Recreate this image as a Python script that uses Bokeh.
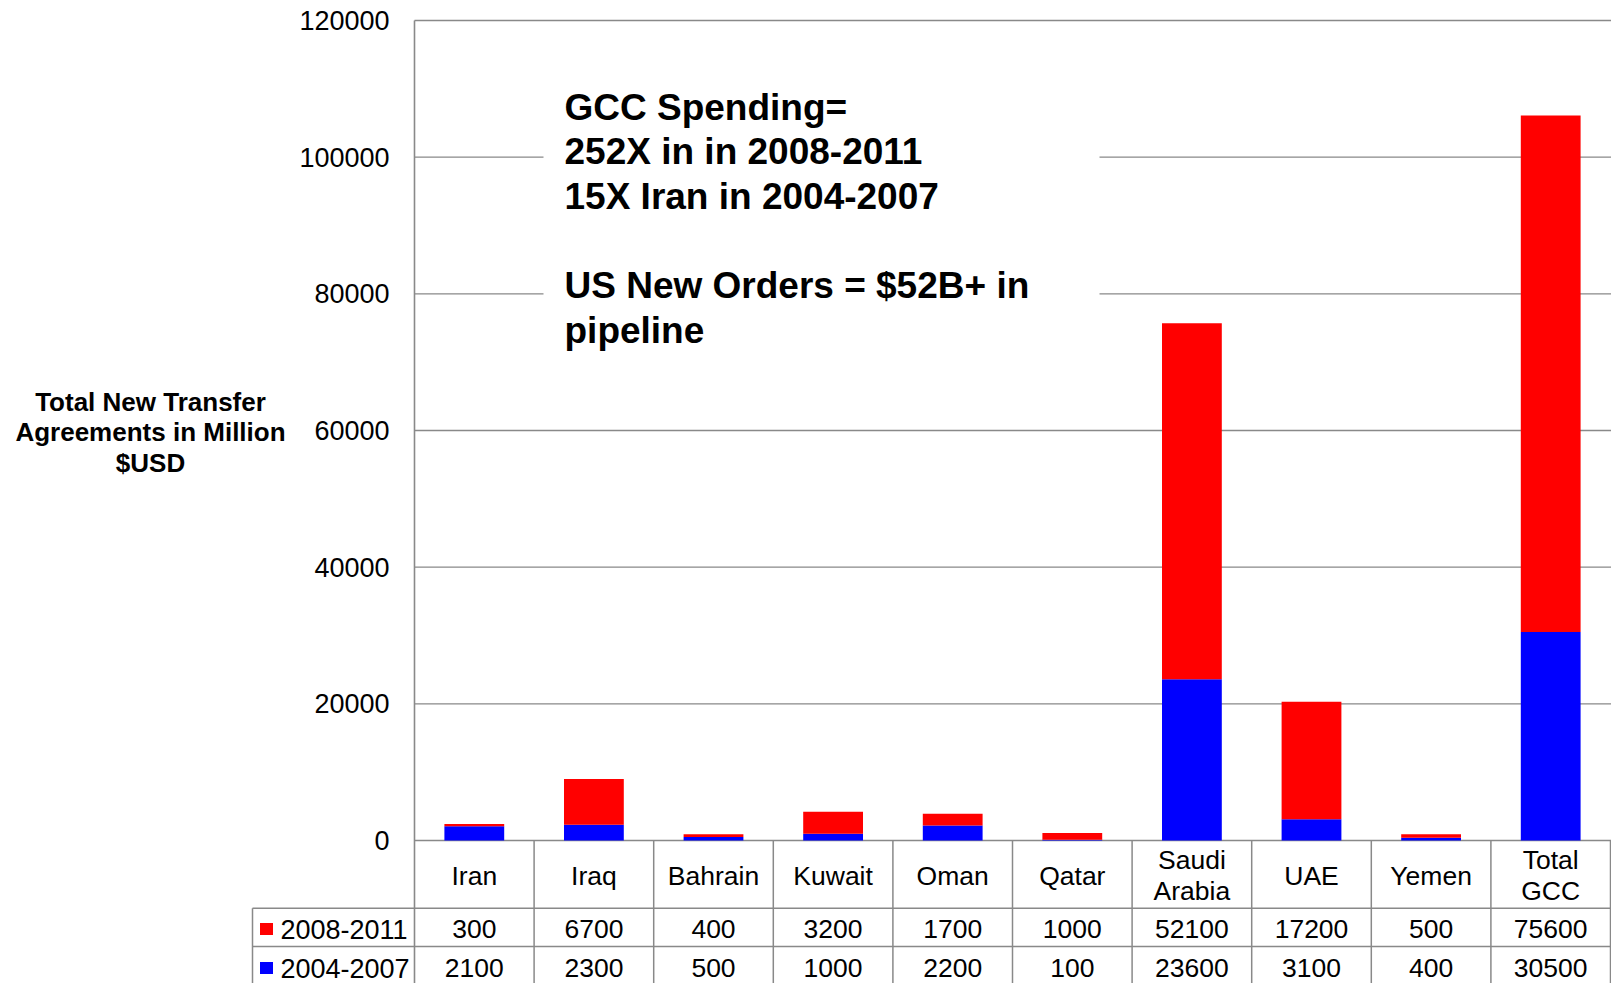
import numpy as np
from bokeh.plotting import figure
from bokeh.models import Range1d, FixedTicker, BasicTickFormatter
from bokeh.core.properties import value
from bokeh.embed import file_html
from bokeh.resources import INLINE

# ---------------- data ----------------
categories = ["Iran", "Iraq", "Bahrain", "Kuwait", "Oman", "Qatar",
              "Saudi Arabia", "UAE", "Yemen", "Total GCC"]
category_labels = ["Iran", "Iraq", "Bahrain", "Kuwait", "Oman", "Qatar",
                   "Saudi\nArabia", "UAE", "Yemen", "Total\nGCC"]
series_names = ["2008-2011", "2004-2007"]
values_2008_2011 = [300, 6700, 400, 3200, 1700, 1000, 52100, 17200, 500, 75600]
values_2004_2007 = [2100, 2300, 500, 1000, 2200, 100, 23600, 3100, 400, 30500]
series_colors = ["#FF0000", "#0000FF"]
y_ticks = [0, 20000, 40000, 60000, 80000, 100000, 120000]
y_title = "Total New Transfer\nAgreements in Million\n$USD"
note_text = ("GCC Spending=\n252X in in 2008-2011\n15X Iran in 2004-2007\n\n"
             "US New Orders = $52B+ in\npipeline")

# ---------------- layout helpers (page pixels -> data) ----------------
W, H = 1611, 983
OX, OY = 0, 0
AXIS_X, ZERO_Y, TOP_Y = 414, 840, 20
COL_W = 119.6
PX_PER_UNIT = (ZERO_Y - TOP_Y) / y_ticks[-1]


def dx(px):
    return (px - AXIS_X) / COL_W


def dy(py):
    return (ZERO_Y - py) / PX_PER_UNIT


FONT = value("Liberation Sans")
GRAY = "#898989"
TXT = "26.5px"

p = figure(width=W, height=H, output_backend="svg", toolbar_location=None,
           x_range=Range1d(dx(OX), dx(OX + W)),
           y_range=Range1d(dy(OY + H), dy(OY)),
           x_axis_location=None,
           min_border_left=0, min_border_right=0, min_border_top=0, min_border_bottom=0)
p.outline_line_color = None
p.xgrid.visible = False
p.ygrid.visible = False
p.background_fill_color = "white"
p.border_fill_color = "white"

# y axis at x = 0 (left edge of the first category column)
ax = p.yaxis[0]
ax.fixed_location = 0
ax.ticker = FixedTicker(ticks=y_ticks)
ax.formatter = BasicTickFormatter(use_scientific=False)
ax.bounds = (dy(OY + H), y_ticks[-1])
ax.axis_line_color = GRAY
ax.axis_line_width = 1.6
ax.major_tick_line_color = None
ax.minor_tick_line_color = None
ax.major_tick_out = 0
ax.major_tick_in = 0
ax.minor_tick_out = 0
ax.major_label_standoff = 25
ax.major_label_text_font = "Liberation Sans"
ax.major_label_text_font_size = "27px"
ax.major_label_text_color = "#000000"

x_end = dx(OX + W) + 1
n = len(categories)
xc = np.arange(n) + 0.5

# gridlines
p.segment(x0=[0] * len(y_ticks), x1=[x_end] * len(y_ticks), y0=y_ticks, y1=y_ticks,
          line_color=GRAY, line_width=1.4)

# white box behind the note
p.quad(left=dx(543), right=dx(1099), top=dy(60), bottom=dy(365),
       fill_color="white", line_color=None)

# stacked bars
v08 = np.array(values_2008_2011)
v04 = np.array(values_2004_2007)
p.vbar(x=xc, width=0.5, bottom=0, top=v04, fill_color=series_colors[1], line_color=None)
p.vbar(x=xc, width=0.5, bottom=v04, top=v04 + v08, fill_color=series_colors[0], line_color=None)

# data table lines
row_tops = [dy(907.7), dy(946)]
y_bottom = dy(OY + H) - 1000
p.segment(x0=[dx(252)] * 2, x1=[x_end] * 2, y0=row_tops, y1=row_tops,
          line_color=GRAY, line_width=1.5)
vx = list(np.arange(1, n + 1))
p.segment(x0=vx, x1=vx, y0=[0] * len(vx), y1=[y_bottom] * len(vx),
          line_color=GRAY, line_width=1.5)
p.segment(x0=[dx(252)], x1=[dx(252)], y0=[row_tops[0]], y1=[y_bottom],
          line_color=GRAY, line_width=1.5)

# category labels
p.text(x=xc, y=[dy(875)] * n, text=category_labels, text_font=FONT,
       text_font_size=TXT, text_align="center", text_baseline="middle",
       text_line_height=1.02, text_color="#000000")

# value rows
row_y = [dy(928.5), dy(967.5)]
for vals, yy in zip([values_2008_2011, values_2004_2007], row_y):
    p.text(x=xc, y=[yy] * n, text=[str(v) for v in vals], text_font=FONT,
           text_font_size=TXT, text_align="center", text_baseline="middle",
           text_color="#000000")

# legend keys in the table
p.rect(x=[dx(266)] * 2, y=row_y, width=13, height=12, width_units="screen",
       height_units="screen", fill_color=series_colors, line_color=None)
p.text(x=[dx(280)] * 2, y=row_y, text=series_names, text_font=FONT,
       text_font_size="27px", text_align="left", text_baseline="middle",
       text_color="#000000")

# y-axis title
p.text(x=[dx(150)], y=[dy(432)], text=[y_title], text_font=FONT,
       text_font_size="26px", text_font_style="bold", text_align="center",
       text_baseline="middle", text_line_height=1.03, text_color="#000000")

# note
p.text(x=[dx(564)], y=[dy(86)], text=[note_text], text_font=FONT,
       text_font_size="37px", text_font_style="bold", text_align="left",
       text_baseline="top", text_line_height=1.09, text_color="#000000")

open("out.html", "w").write(file_html(p, INLINE))
